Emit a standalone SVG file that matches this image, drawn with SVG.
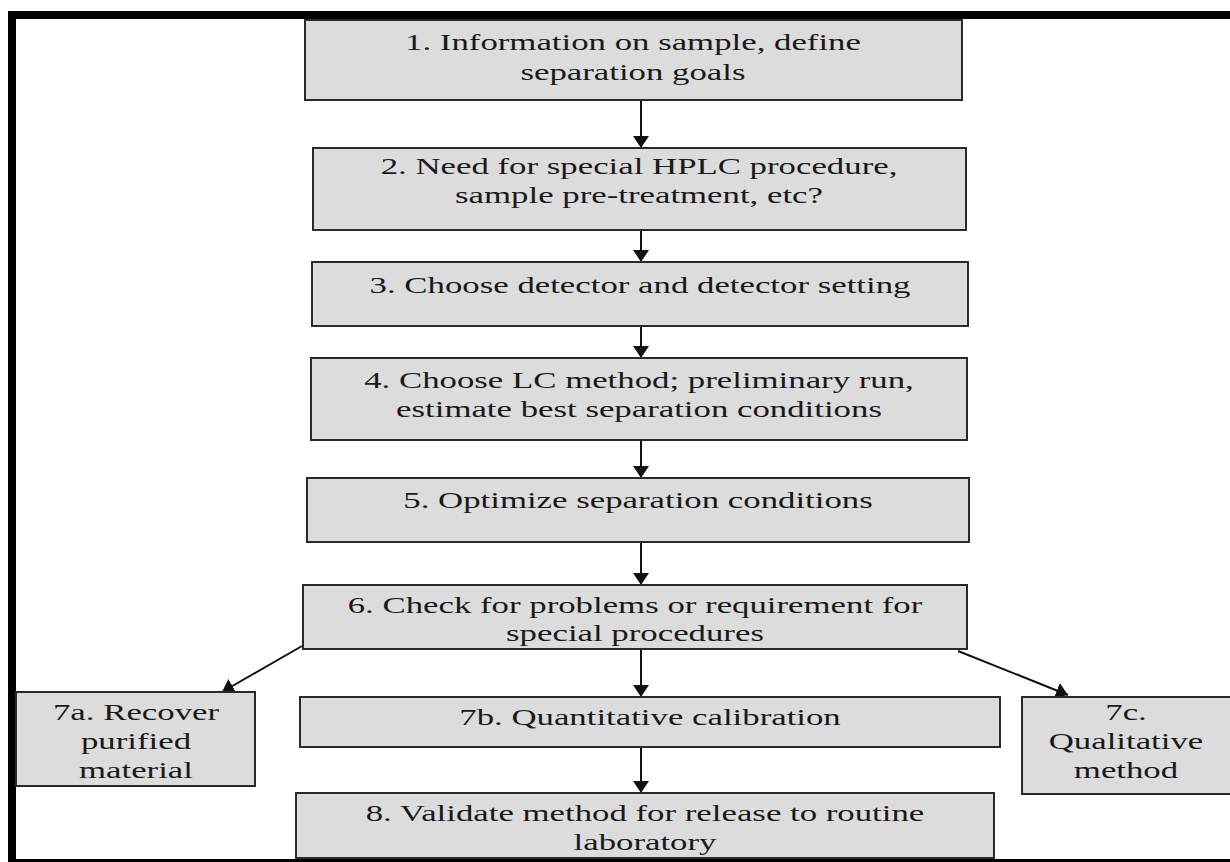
<svg xmlns="http://www.w3.org/2000/svg" width="1230" height="862" viewBox="0 0 1230 862">
  <style>
    .box { fill: #dcdcdc; stroke: #2a2a2a; stroke-width: 2; }
    .lbl { font-family: "Liberation Serif", "Times New Roman", serif; font-size: 24px; fill: #1a1a1a; text-anchor: middle; }
    .edge { stroke: #111; stroke-width: 2; fill: none; marker-end: url(#head); }
  </style>
  <defs>
    <marker id="head" markerUnits="userSpaceOnUse" markerWidth="12" markerHeight="16" refX="12" refY="8" orient="auto">
      <path d="M0,0 L12,8 L0,16 z" fill="#111"/>
    </marker>
  </defs>

  <rect x="0" y="0" width="1230" height="862" fill="#ffffff"/>

  <!-- heavy frame (top, left, bottom) -->
  <g id="frame" fill="#000">
    <rect x="8" y="11" width="1222" height="8"/>
    <rect x="8" y="11" width="8" height="851"/>
    <rect x="8" y="859" width="1222" height="3"/>
  </g>

  <!-- connectors -->
  <g id="connectors">
    <line class="edge" x1="641" y1="100" x2="641" y2="148"/>
    <line class="edge" x1="641" y1="230" x2="641" y2="262"/>
    <line class="edge" x1="641" y1="326" x2="641" y2="358"/>
    <line class="edge" x1="641" y1="440" x2="641" y2="478"/>
    <line class="edge" x1="641" y1="542" x2="641" y2="585"/>
    <line class="edge" x1="641" y1="649" x2="641" y2="697"/>
    <line class="edge" x1="641" y1="747" x2="641" y2="793"/>
    <line class="edge" x1="302" y1="646" x2="222" y2="692"/>
    <line class="edge" x1="958" y1="651" x2="1068" y2="695"/>
  </g>

  <g id="n1">
    <rect class="box" x="305" y="20" width="657" height="80"/>
    <g transform="translate(633 0) scale(1.45 1)">
      <text class="lbl" x="0" y="50">1. Information on sample, define</text>
      <text class="lbl" x="0" y="80">separation goals</text>
    </g>
  </g>

  <g id="n2">
    <rect class="box" x="313" y="148" width="653" height="82"/>
    <g transform="translate(639 0) scale(1.45 1)">
      <text class="lbl" x="0" y="174">2. Need for special HPLC procedure,</text>
      <text class="lbl" x="0" y="203">sample pre-treatment, etc?</text>
    </g>
  </g>

  <g id="n3">
    <rect class="box" x="312" y="262" width="656" height="64"/>
    <g transform="translate(640 0) scale(1.45 1)">
      <text class="lbl" x="0" y="293">3. Choose detector and detector setting</text>
    </g>
  </g>

  <g id="n4">
    <rect class="box" x="311" y="358" width="656" height="82"/>
    <g transform="translate(639 0) scale(1.45 1)">
      <text class="lbl" x="0" y="388">4. Choose LC method; preliminary run,</text>
      <text class="lbl" x="0" y="417">estimate best separation conditions</text>
    </g>
  </g>

  <g id="n5">
    <rect class="box" x="307" y="478" width="662" height="64"/>
    <g transform="translate(638 0) scale(1.45 1)">
      <text class="lbl" x="0" y="508">5. Optimize separation conditions</text>
    </g>
  </g>

  <g id="n6">
    <rect class="box" x="303" y="585" width="664" height="64"/>
    <g transform="translate(635 0) scale(1.45 1)">
      <text class="lbl" x="0" y="613">6. Check for problems or requirement for</text>
      <text class="lbl" x="0" y="641">special procedures</text>
    </g>
  </g>

  <g id="n7a">
    <rect class="box" x="16" y="692" width="239" height="94"/>
    <g transform="translate(136 0) scale(1.45 1)">
      <text class="lbl" x="0" y="720">7a. Recover</text>
      <text class="lbl" x="0" y="749">purified</text>
      <text class="lbl" x="0" y="778">material</text>
    </g>
  </g>

  <g id="n7b">
    <rect class="box" x="300" y="697" width="700" height="50"/>
    <g transform="translate(650 0) scale(1.45 1)">
      <text class="lbl" x="0" y="725">7b. Quantitative calibration</text>
    </g>
  </g>

  <g id="n7c">
    <rect class="box" x="1022" y="697" width="215" height="97"/>
    <g transform="translate(1126 0) scale(1.45 1)">
      <text class="lbl" x="0" y="720">7c.</text>
      <text class="lbl" x="0" y="749">Qualitative</text>
      <text class="lbl" x="0" y="778">method</text>
    </g>
  </g>

  <g id="n8">
    <rect class="box" x="296" y="793" width="698" height="65"/>
    <g transform="translate(645 0) scale(1.45 1)">
      <text class="lbl" x="0" y="821">8. Validate method for release to routine</text>
      <text class="lbl" x="0" y="850">laboratory</text>
    </g>
  </g>
</svg>
